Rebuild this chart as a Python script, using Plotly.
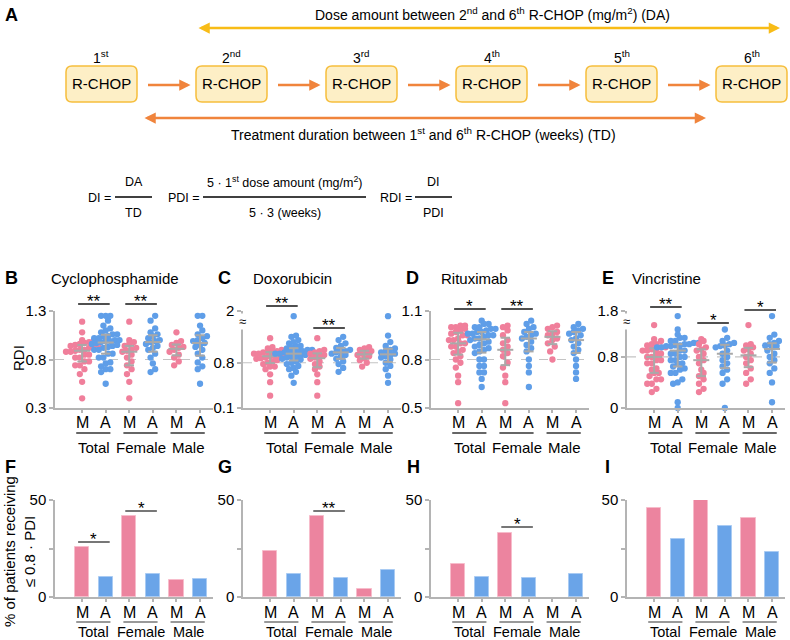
import numpy as np
import plotly.graph_objects as go

W, H = 790, 640


def PX(x):
    return x / W


def PY(y):
    return 1 - y / H


# ---------------- data ----------------
pos_labels = ["M", "A", "M", "A", "M", "A"]
group_labels = ["Total", "Female", "Male"]
drug_titles = ["Cyclophosphamide", "Doxorubicin", "Rituximab", "Vincristine"]
panel_letters_top = ["B", "C", "D", "E"]
panel_letters_bot = ["F", "G", "H", "I"]

cyc_female_M = [1.19, 1.00, 0.98, 0.96, 0.94, 0.92, 0.90, 0.89, 0.88, 0.85, 0.82, 0.78, 0.74, 0.70, 0.65, 0.57, 0.40]
cyc_female_A = [1.25, 1.20, 1.12, 1.08, 1.06, 1.04, 1.02, 1.00, 0.99, 0.98, 0.96, 0.94, 0.92, 0.90, 0.86, 0.82, 0.76, 0.70, 0.67]
cyc_male_M = [1.08, 0.99, 0.97, 0.95, 0.93, 0.92, 0.90, 0.88, 0.85, 0.82, 0.78, 0.74]
cyc_male_A = [1.25, 1.25, 1.15, 1.10, 1.06, 1.04, 1.02, 1.00, 0.99, 0.97, 0.95, 0.93, 0.90, 0.86, 0.82, 0.77, 0.73, 0.70, 0.55]

dox_female_M = [1.18, 1.00, 0.98, 0.96, 0.94, 0.92, 0.90, 0.88, 0.86, 0.82, 0.78, 0.74, 0.70, 0.62, 0.50, 0.29]
dox_female_A = [1.20, 1.15, 1.10, 1.06, 1.03, 1.00, 0.98, 0.97, 0.96, 0.94, 0.92, 0.89, 0.86, 0.82, 0.78, 0.72, 0.66]
dox_male_M = [1.04, 1.02, 1.00, 0.98, 0.96, 0.94, 0.92, 0.90, 0.87, 0.84, 0.80, 0.74]
dox_male_A = [1.52, 1.22, 1.12, 1.06, 1.02, 1.00, 0.98, 0.96, 0.94, 0.92, 0.90, 0.88, 0.85, 0.80, 0.75, 0.70, 0.60, 0.49]

rit_female_M = [1.01, 1.00, 0.98, 0.95, 0.92, 0.90, 0.88, 0.86, 0.84, 0.82, 0.78, 0.75, 0.70, 0.66, 0.53]
rit_female_A = [1.04, 1.02, 1.00, 0.99, 0.97, 0.96, 0.95, 0.94, 0.93, 0.91, 0.89, 0.87, 0.85, 0.80, 0.76, 0.72, 0.63]
rit_male_M = [1.01, 1.00, 0.99, 0.97, 0.96, 0.95, 0.93, 0.92, 0.90, 0.88, 0.85, 0.80]
rit_male_A = [1.02, 1.00, 0.99, 0.98, 0.97, 0.96, 0.95, 0.93, 0.92, 0.90, 0.88, 0.86, 0.84, 0.80, 0.76, 0.72, 0.68]

vin_female_M = [1.08, 1.05, 1.00, 0.95, 0.92, 0.90, 0.85, 0.80, 0.75, 0.70, 0.60, 0.55, 0.50, 0.45, 0.38, 0.30, 0.25]
vin_female_A = [1.23, 1.10, 1.05, 1.02, 1.00, 0.98, 0.97, 0.95, 0.90, 0.85, 0.80, 0.75, 0.70, 0.65, 0.60, 0.55, 0.45, 0.38, 0.00]
vin_male_M = [1.30, 1.00, 0.98, 0.95, 0.92, 0.90, 0.85, 0.80, 0.75, 0.70, 0.62, 0.55, 0.45, 0.38]
vin_male_A = [1.44, 1.15, 1.10, 1.05, 1.02, 1.00, 0.98, 0.97, 0.95, 0.90, 0.85, 0.80, 0.75, 0.70, 0.62, 0.55, 0.40, 0.09]

# % of patients receiving <= 0.8 PDI  (Total M, Total A, Female M, Female A, Male M, Male A)
pct_cyc = [25.8, 10.3, 41.8, 11.9, 8.8, 9.3]
pct_dox = [23.7, 11.9, 41.8, 9.8, 4.1, 13.9]
pct_rit = [17.0, 10.3, 33.0, 9.8, 0.0, 11.9]
pct_vin = [45.9, 29.9, 50.5, 36.6, 40.7, 23.2]

# y-axis settings of the RDI panels (displayed range; axes with a break use a compressed top)
rdi_ranges = [[0.3, 1.3], [0.1, 1.6], [0.5, 1.1], [0.0, 1.52]]
rdi_tickvals = [[0.3, 0.8, 1.3], [0.1, 0.8, 1.6], [0.5, 0.8, 1.1], [0.0, 0.8, 1.52]]
rdi_ticktext = [["0.3", "0.8", "1.3"], ["0.1", "0.8", "2"], ["0.5", "0.8", "1.1"], ["0", "0.8", "1.8"]]
axis_break = [False, True, False, True]
pct_tickvals = [0, 25, 50]
pct_ticktext = ["0", "", "50"]

# significance: (panel, pair index, label)
sig_rdi = [(0, 0, "**"), (0, 1, "**"), (1, 0, "**"), (1, 1, "**"), (2, 0, "*"), (2, 1, "**"),
           (3, 0, "**"), (3, 1, "*"), (3, 2, "*")]
sig_rdi_ypx = [304, 304, 306, 328, 309, 309, 307, 323, 310]
sig_pct = [(0, 0, "*"), (0, 1, "*"), (1, 1, "**"), (2, 1, "*")]
sig_pct_ypx = [542, 511, 511, 527]

rdi_data = [
    [cyc_female_M, cyc_female_A, cyc_male_M, cyc_male_A],
    [dox_female_M, dox_female_A, dox_male_M, dox_male_A],
    [rit_female_M, rit_female_A, rit_male_M, rit_male_A],
    [vin_female_M, vin_female_A, vin_male_M, vin_male_A],
]
pct_data = [pct_cyc, pct_dox, pct_rit, pct_vin]

# ---------------- style ----------------
PINK = "#F07F9B"
BLUE = "#5F9EE8"
PINK_BAR = "#EC849F"
BLUE_BAR = "#6AA4E8"
GRAY = "#A9A9A9"
AXIS = "#B4B4B4"
YELLOW = "#F8BC17"
ORANGE = "#F0843C"
BOX_FILL = "#FDEFC6"
BOX_LINE = "#F6BE3C"
FONT = "Liberation Sans, Arial, Helvetica, sans-serif"

col_left = [55, 243, 431, 627]
col_w = 158
sc_top, sc_bot = 311, 408
bar_top, bar_bot = 500, 597
xr = [-1.15, 5.55]
unit_px = col_w / (xr[1] - xr[0])
positions = list(range(6))

fig = go.Figure()
layout = dict(width=W, height=H, margin=dict(l=0, r=0, t=0, b=0, autoexpand=False),
              plot_bgcolor="white", paper_bgcolor="white", showlegend=False,
              font=dict(family=FONT, color="black", size=14))
shapes = []
annotations = []


def swarm(vals, lo, hi, h_px, row_h=5.0, sp=4.6):
    """Prism-like scatter: values that fall in the same ~row are spread side by side."""
    v = np.asarray(vals, float)
    ypx = (v - lo) / (hi - lo) * h_px
    order = np.argsort(ypx, kind="stable")
    rows, cur, start = [], [order[0]], ypx[order[0]]
    for i in order[1:]:
        if ypx[i] - start < row_h:
            cur.append(i)
        else:
            rows.append(cur)
            cur, start = [i], ypx[i]
    rows.append(cur)
    offs = np.zeros(len(v))
    for r in rows:
        n = len(r)
        for j, i in enumerate(r):
            offs[i] = (j - (n - 1) / 2) * sp
    return offs / unit_px


def ax_names(k):
    s = "" if k == 0 else str(k + 1)
    return "xaxis" + s, "yaxis" + s, "x" + s, "y" + s


for k in range(8):
    col = k % 4
    xa, ya, xs, ys = ax_names(k)
    top, bot = (sc_top, sc_bot) if k < 4 else (bar_top, bar_bot)
    layout[xa] = dict(domain=[PX(col_left[col]), PX(col_left[col] + col_w)], range=xr,
                      anchor=ys, tickvals=positions, ticktext=pos_labels, showticklabels=False,
                      ticks="outside", ticklen=3, tickcolor=AXIS, tickwidth=1.5, showline=True,
                      linecolor=AXIS, linewidth=1.5, showgrid=False, zeroline=False,
                      automargin=False, fixedrange=True)
    if k < 4:
        yrng, tv, tt = rdi_ranges[col], rdi_tickvals[col], rdi_ticktext[col]
    else:
        yrng, tv, tt = [0, 50], pct_tickvals, pct_ticktext
    layout[ya] = dict(domain=[PY(bot), PY(top)], range=yrng, anchor=xs, tickvals=tv,
                      ticktext=tt, ticks="outside", ticklen=4, tickcolor=AXIS, tickwidth=1.5,
                      showline=True, linecolor=AXIS, linewidth=1.5, showgrid=False,
                      zeroline=False, tickfont=dict(size=15, family=FONT, color="black"),
                      automargin=False, fixedrange=True)

    # M / A labels, group underline and labels
    ma_y = 422 if k < 4 else 612
    lab_y = 433 if k < 4 else 622
    txt_y = 447 if k < 4 else 632
    uline = "#333333" if k < 4 else "#777777"
    for p in positions:
        annotations.append(dict(xref=xs, yref="paper", x=p, y=PY(ma_y), text=pos_labels[p],
                                showarrow=False, xanchor="center", yanchor="middle",
                                font=dict(size=16, family=FONT)))
    for g in range(3):
        shapes.append(dict(type="line", xref=xs, yref="paper", x0=2 * g - 0.25, x1=2 * g + 1 + 0.2,
                           y0=PY(lab_y), y1=PY(lab_y), line=dict(color=uline, width=1.6)))
        annotations.append(dict(xref=xs, yref="paper", x=2 * g + 0.5, y=PY(txt_y), text=group_labels[g],
                                showarrow=False, font=dict(size=15 if k < 4 else 14.5, family=FONT),
                                xanchor="center", yanchor="middle"))

# ---------- RDI scatter panels ----------
for col in range(4):
    xa, ya, xs, ys = ax_names(col)
    fM, fA, mM, mA = rdi_data[col]
    groups = [fM + mM, fA + mA, fM, fA, mM, mA]
    lo, hi = rdi_ranges[col]
    shapes.append(dict(type="line", xref=xs + " domain", yref=ys, x0=0, x1=1, y0=0.8, y1=0.8,
                       line=dict(color="#C4C4C4", width=1.2, dash="dash"), layer="below"))
    for p, vals in enumerate(groups):
        color = PINK if p % 2 == 0 else BLUE
        offs = swarm(vals, lo, hi, sc_bot - sc_top)
        fig.add_trace(go.Scatter(x=[p + o for o in offs], y=vals, mode="markers", xaxis=xs, yaxis=ys,
                                 marker=dict(color=color, size=6.3, line=dict(width=0)),
                                 cliponaxis=False, hoverinfo="y"))
        q1, med, q3 = np.percentile(vals, [25, 50, 75])
        ex = [p - 0.34, p + 0.34, None, p - 0.2, p + 0.2, None, p - 0.2, p + 0.2, None, p, p]
        ey = [med, med, None, q1, q1, None, q3, q3, None, q1, q3]
        fig.add_trace(go.Scatter(x=ex, y=ey, mode="lines", xaxis=xs, yaxis=ys,
                                 line=dict(color=GRAY, width=2), cliponaxis=False, hoverinfo="skip"))
    annotations.append(dict(xref="paper", yref="paper", x=PX([3, 216, 404, 600][col]), y=PY(278),
                            text="<b>" + panel_letters_top[col] + "</b>", showarrow=False,
                            xanchor="left", yanchor="middle", font=dict(size=18, family=FONT)))
    annotations.append(dict(xref="paper", yref="paper", x=PX([49, 251, 439, 630][col]), y=PY(278),
                            text=drug_titles[col], showarrow=False, xanchor="left", yanchor="middle",
                            font=dict(size=15, family=FONT)))
    if axis_break[col]:
        annotations.append(dict(xref="paper", yref="paper", x=PX(col_left[col] - 1), y=PY(321),
                                text="≈", showarrow=False, xanchor="center", yanchor="middle",
                                bgcolor="white", borderpad=0, font=dict(size=13, family=FONT)))

annotations.append(dict(xref="paper", yref="paper", x=PX(18), y=PY(358), text="RDI", textangle=-90,
                        showarrow=False, xanchor="center", yanchor="middle", font=dict(size=15, family=FONT)))

# ---------- bar panels ----------
for col in range(4):
    xa, ya, xs, ys = ax_names(col + 4)
    vals = pct_data[col]
    fig.add_trace(go.Bar(x=positions, y=vals, xaxis=xs, yaxis=ys, width=0.6,
                         marker=dict(color=[PINK_BAR, BLUE_BAR] * 3,
                                     line=dict(color=["#F7BCCB", "#A9CBF3"] * 3,
                                               width=[1 if v > 0 else 0 for v in vals])),
                         cliponaxis=False, hoverinfo="y"))
    annotations.append(dict(xref="paper", yref="paper", x=PX([3, 216, 405, 603][col]), y=PY(467),
                            text="<b>" + panel_letters_bot[col] + "</b>", showarrow=False,
                            xanchor="left", yanchor="middle", font=dict(size=18, family=FONT)))

annotations.append(dict(xref="paper", yref="paper", x=PX(19), y=PY(552),
                        text="% of patients receiving<br>≤ 0.8 · PDI", textangle=-90,
                        showarrow=False, xanchor="center", yanchor="middle",
                        font=dict(size=15, family=FONT)))


# ---------- significance bars ----------
def add_sig(k, pair, label, ypx, color):
    xa, ya, xs, ys = ax_names(k)
    shapes.append(dict(type="line", xref=xs, yref="paper", x0=2 * pair - 0.17, x1=2 * pair + 1 + 0.17,
                       y0=PY(ypx), y1=PY(ypx), line=dict(color=color, width=1.6)))
    annotations.append(dict(xref=xs, yref="paper", x=2 * pair + 0.5, y=PY(ypx + 9), text=label,
                            showarrow=False, xanchor="center", yanchor="bottom",
                            font=dict(size=17, family=FONT, color="black")))


for (c, pair, lab), ypx in zip(sig_rdi, sig_rdi_ypx):
    add_sig(c, pair, lab, ypx, "#222222")
for (c, pair, lab), ypx in zip(sig_pct, sig_pct_ypx):
    add_sig(c + 4, pair, lab, ypx, "#555555")

# ---------- panel A: schema ----------
annotations.append(dict(xref="paper", yref="paper", x=PX(3), y=PY(15), text="<b>A</b>", showarrow=False,
                        xanchor="left", yanchor="middle", font=dict(size=18, family=FONT)))

box_centers = [101.5, 231.5, 361.5, 491.5, 621.5, 751.5]
ordinals = ["1<sup>st</sup>", "2<sup>nd</sup>", "3<sup>rd</sup>", "4<sup>th</sup>", "5<sup>th</sup>", "6<sup>th</sup>"]


def rrect_path(x0, y0, x1, y1, r):
    X = lambda v: f"{v / W:.5f}"
    Y = lambda v: f"{1 - v / H:.5f}"
    return (f"M {X(x0 + r)},{Y(y0)} L {X(x1 - r)},{Y(y0)} Q {X(x1)},{Y(y0)} {X(x1)},{Y(y0 + r)} "
            f"L {X(x1)},{Y(y1 - r)} Q {X(x1)},{Y(y1)} {X(x1 - r)},{Y(y1)} L {X(x0 + r)},{Y(y1)} "
            f"Q {X(x0)},{Y(y1)} {X(x0)},{Y(y1 - r)} L {X(x0)},{Y(y0 + r)} Q {X(x0)},{Y(y0)} {X(x0 + r)},{Y(y0)} Z")


for i, cx in enumerate(box_centers):
    shapes.append(dict(type="path", xref="paper", yref="paper", path=rrect_path(cx - 35.5, 66, cx + 35.5, 102, 6),
                       fillcolor=BOX_FILL, line=dict(color=BOX_LINE, width=1.5)))
    annotations.append(dict(xref="paper", yref="paper", x=PX(cx), y=PY(84), text="R-CHOP", showarrow=False,
                            xanchor="center", yanchor="middle", font=dict(size=15, family=FONT)))
    annotations.append(dict(xref="paper", yref="paper", x=PX(cx), y=PY(57), text=ordinals[i], showarrow=False,
                            xanchor="center", yanchor="middle", font=dict(size=14, family=FONT)))
    if i < 5:
        annotations.append(dict(xref="paper", yref="paper", x=PX(cx + 89), y=PY(85), ax=-44, ay=0, text="",
                                showarrow=True, arrowhead=2, arrowsize=0.9, arrowwidth=2.5, arrowcolor=ORANGE))

annotations.append(dict(xref="paper", yref="paper", x=PX(780), y=PY(28), ax=-583, ay=0, text="", showarrow=True,
                        arrowhead=2, arrowside="end+start", arrowsize=0.9, arrowwidth=2.5, arrowcolor=YELLOW))
annotations.append(dict(xref="paper", yref="paper", x=PX(706), y=PY(118), ax=-563, ay=0, text="", showarrow=True,
                        arrowhead=2, arrowside="end+start", arrowsize=0.9, arrowwidth=2.5, arrowcolor=ORANGE))
annotations.append(dict(xref="paper", yref="paper", x=PX(492), y=PY(14),
                        text="Dose amount between 2<sup>nd</sup> and 6<sup>th</sup> R-CHOP (mg/m<sup>2</sup>) (DA)",
                        showarrow=False, xanchor="center", yanchor="middle", font=dict(size=14, family=FONT)))
annotations.append(dict(xref="paper", yref="paper", x=PX(423), y=PY(134),
                        text="Treatment duration between 1<sup>st</sup> and 6<sup>th</sup> R-CHOP (weeks) (TD)",
                        showarrow=False, xanchor="center", yanchor="middle", font=dict(size=14, family=FONT)))

# formulas
formulas = [
    ("DI =", 99, 115, 152, "DA", "TD"),
    ("PDI =", 184, 203, 366, "5 · 1<sup>st</sup> dose amount (mg/m<sup>2</sup>)", "5 · 3 (weeks)"),
    ("RDI =", 396, 415, 452, "DI", "PDI"),
]
for lab, lx, x0, x1, num, den in formulas:
    shapes.append(dict(type="line", xref="paper", yref="paper", x0=PX(x0), x1=PX(x1), y0=PY(197), y1=PY(197),
                       line=dict(color="black", width=1.5)))
    annotations.append(dict(xref="paper", yref="paper", x=PX(lx), y=PY(198), text=lab, showarrow=False,
                            xanchor="center", yanchor="middle", font=dict(size=12.5, family=FONT)))
    annotations.append(dict(xref="paper", yref="paper", x=PX((x0 + x1) / 2), y=PY(182), text=num, showarrow=False,
                            xanchor="center", yanchor="middle", font=dict(size=12.5, family=FONT)))
    annotations.append(dict(xref="paper", yref="paper", x=PX((x0 + x1) / 2), y=PY(213), text=den, showarrow=False,
                            xanchor="center", yanchor="middle", font=dict(size=12.5, family=FONT)))

layout["shapes"] = shapes
layout["annotations"] = annotations
layout["bargap"] = 0
fig.update_layout(**layout)
fig.write_html("out.html", config={"displayModeBar": False},
               post_script="document.body.style.margin='0';document.body.style.overflow='hidden';")
